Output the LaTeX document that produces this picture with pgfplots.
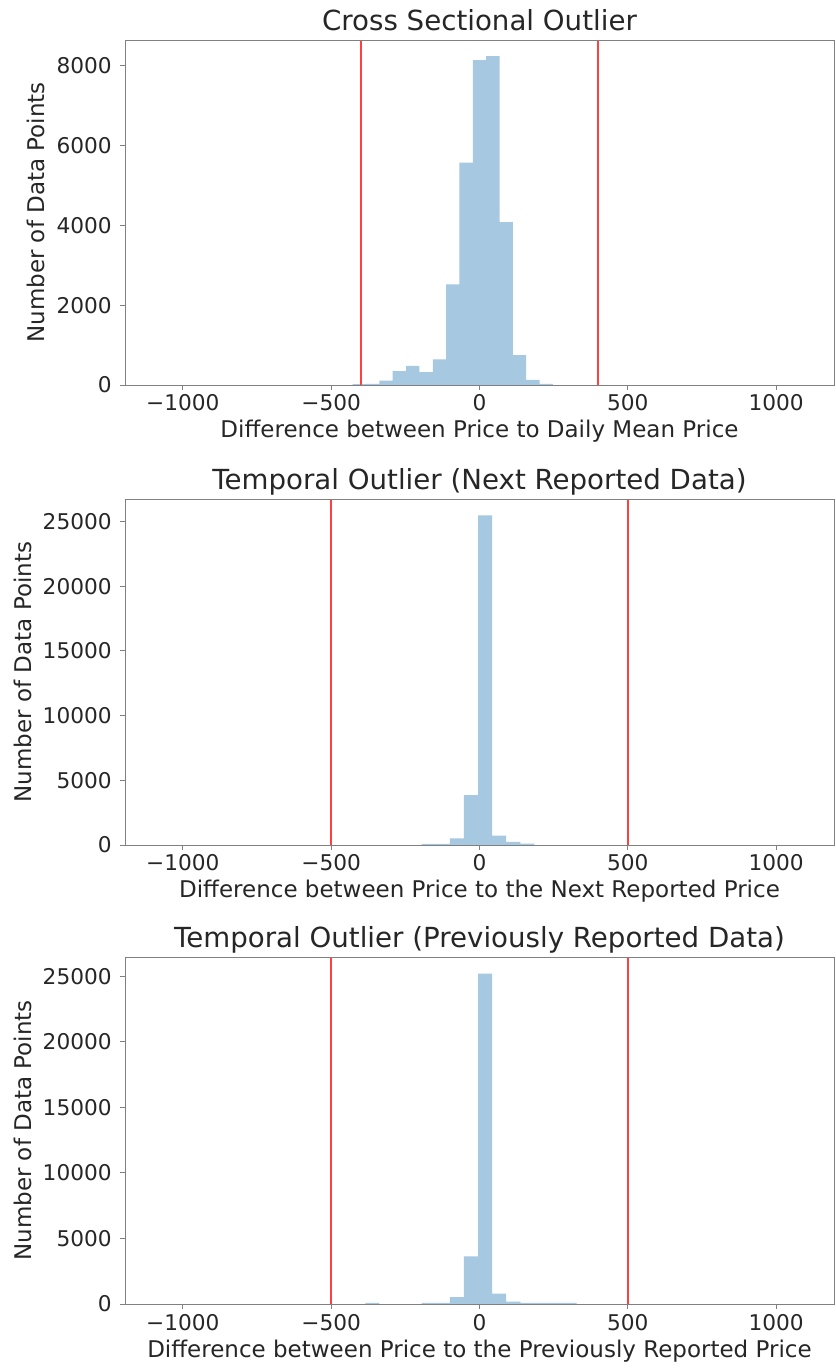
\documentclass[border=0pt]{standalone}
\usepackage{fontspec}
\setmainfont{DejaVu Sans}
\usepackage{pgfplots}
\pgfplotsset{compat=1.18}

\definecolor{barblue}{HTML}{A6C8E0}
\definecolor{cutred}{HTML}{FF4040}
\definecolor{framegray}{HTML}{808080}
\definecolor{txt}{HTML}{262626}

\pgfplotsset{
  every axis title shift=0pt,
  histo/.style={
    scale only axis,
    width=425.4pt,
    xmin=-1195, xmax=1195,
    ymin=0,
    scaled y ticks=false,
    xtick={-1000,-500,0,500,1000},
    xticklabels={−1000,−500,0,500,1000},
    tick align=outside,
    xtick pos=bottom, ytick pos=left,
    major tick length=3pt,
    tick style={framegray, line width=0.5pt},
    axis line style={framegray, line width=0.5pt},
    axis on top,
    ticklabel style={font=\fontsize{13}{15}\selectfont, text=txt},
    xticklabel style={anchor=base, inner sep=0pt, yshift=-12.6pt},
    yticklabel style={anchor=east, inner sep=0pt, xshift=-4.8pt},
    title style={at={([yshift=5.4pt]axis description cs:0.5,1)}, anchor=base,
                 inner sep=0pt, font=\fontsize{16.6}{19}\selectfont, text=txt},
    xlabel style={at={([yshift=-31.8pt]axis description cs:0.5,0)}, anchor=base,
                  inner sep=0pt, font=\fontsize{13.8}{16}\selectfont, text=txt},
    ylabel={Number of Data Points},
  },
  hbar/.style={ybar interval, fill=barblue, draw=none},
  cut/.style={cutred, line width=1.2pt},
}

\begin{document}
\begin{tikzpicture}
\path[use as bounding box] (0,0) rectangle (501pt,820.8pt);

% Deviation from the daily mean price
\begin{axis}[histo,
  at={(75pt,589.8pt)}, anchor=south west,
  height=207pt,
  ymax=8645,
  ytick={0,2000,4000,6000,8000},
  yticklabels={0,2000,4000,6000,8000},
  title={Cross Sectional Outlier},
  xlabel={Difference between Price to Daily Mean Price},
  ylabel style={at={([xshift=-48pt]axis description cs:0,0.5)}, anchor=base,
                inner sep=0pt, font=\fontsize{13.8}{16}\selectfont, text=txt},
]
\addplot[hbar] coordinates {
  (-427.5,20) (-382.5,30) (-337.5,110) (-292.5,350) (-247.5,480)
  (-202.5,325) (-157.5,640) (-112.5,2520) (-67.5,5570) (-22.5,8140)
  (22.5,8240) (67.5,4080) (112.5,750) (157.5,125) (202.5,25) (247.5,0)
};
\addplot[cut] coordinates {(-400,0) (-400,8645)};
\addplot[cut] coordinates {(400,0) (400,8645)};
\end{axis}

% Change to the next reported price
\begin{axis}[histo,
  at={(75pt,313.8pt)}, anchor=south west,
  height=207.6pt,
  ymax=26735,
  ytick={0,5000,10000,15000,20000,25000},
  yticklabels={0,5000,10000,15000,20000,25000},
  title={Temporal Outlier (Next Reported Data)},
  xlabel={Difference between Price to the Next Reported Price},
  ylabel style={at={([xshift=-55.8pt]axis description cs:0,0.5)}, anchor=base,
                inner sep=0pt, font=\fontsize{13.8}{16}\selectfont, text=txt},
]
\addplot[hbar] coordinates {
  (-195,80) (-147.5,80) (-100,520) (-52.5,3860) (-5,25460)
  (42.5,720) (90,250) (137.5,100) (185,0)
};
\addplot[cut] coordinates {(-500,0) (-500,26735)};
\addplot[cut] coordinates {(500,0) (500,26735)};
\end{axis}

% Change from the previously reported price
\begin{axis}[histo,
  at={(75pt,38.4pt)}, anchor=south west,
  height=208.2pt,
  ymax=26470,
  ytick={0,5000,10000,15000,20000,25000},
  yticklabels={0,5000,10000,15000,20000,25000},
  title={Temporal Outlier (Previously Reported Data)},
  xlabel={Difference between Price to the Previously Reported Price},
  ylabel style={at={([xshift=-55.8pt]axis description cs:0,0.5)}, anchor=base,
                inner sep=0pt, font=\fontsize{13.8}{16}\selectfont, text=txt},
]
\addplot[hbar] coordinates {
  (-385,80) (-337.5,0) (-195,80) (-147.5,80) (-100,520) (-52.5,3640)
  (-5,25200) (42.5,800) (90,190) (137.5,80) (185,80) (232.5,80)
  (280,80) (327.5,0)
};
\addplot[cut] coordinates {(-500,0) (-500,26470)};
\addplot[cut] coordinates {(500,0) (500,26470)};
\end{axis}
\end{tikzpicture}
\end{document}
